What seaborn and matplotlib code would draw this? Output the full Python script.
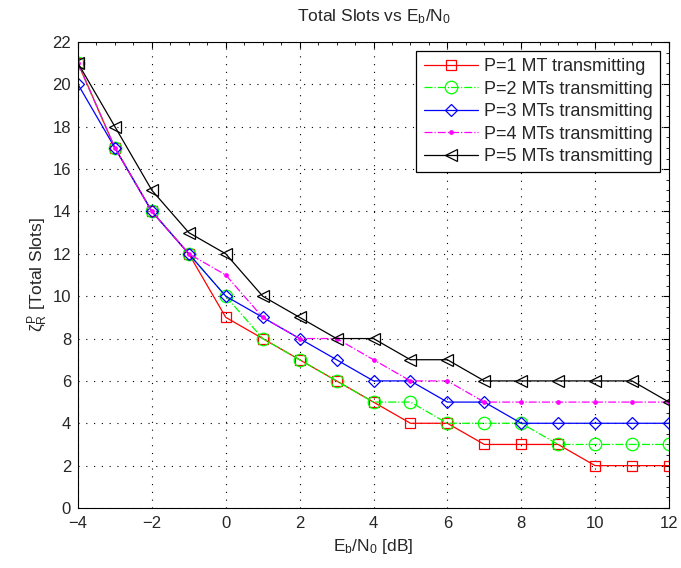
import matplotlib
matplotlib.use("Agg")
import matplotlib.pyplot as plt
import seaborn as sns
import pandas as pd
import numpy as np
from matplotlib.ticker import MultipleLocator, AutoMinorLocator

ebn0 = [-4, -3, -2, -1, 0, 1, 2, 3, 4, 5, 6, 7, 8, 9, 10, 11, 12]
p1 = [21, 17, 14, 12, 9, 8, 7, 6, 5, 4, 4, 3, 3, 3, 2, 2, 2]
p2 = [21, 17, 14, 12, 10, 8, 7, 6, 5, 5, 4, 4, 4, 3, 3, 3, 3]
p3 = [20, 17, 14, 12, 10, 9, 8, 7, 6, 6, 5, 5, 4, 4, 4, 4, 4]
p4 = [21, 17, 14, 12, 11, 9, 8, 8, 7, 6, 6, 5, 5, 5, 5, 5, 5]
p5 = [21, 18, 15, 13, 12, 10, 9, 8, 8, 7, 7, 6, 6, 6, 6, 6, 5]
labels = ["P=1 MT transmitting", "P=2 MTs transmitting", "P=3 MTs transmitting",
          "P=4 MTs transmitting", "P=5 MTs transmitting"]

sns.set_style("white")
plt.rcParams['font.family'] = ['Liberation Sans', 'DejaVu Sans']
plt.rcParams['mathtext.fontset'] = 'custom'
plt.rcParams['mathtext.rm'] = 'Liberation Sans'
plt.rcParams['mathtext.it'] = 'Liberation Sans'

fig = plt.figure(figsize=(6.81, 5.68), dpi=100)
ax = fig.add_axes([78/681, 1-508/568, (669-78)/681, (508-42)/568])

series = [p1, p2, p3, p4, p5]
colors = ["#ff0000", "#00ff00", "#0000ff", "#ff00ff", "#000000"]
styles = ["-", "-.", "-", "-.", "-"]
markers = ["s", "o", "D", ".", "<"]
msizes = [7, 9, 6.5, 5, 9]

for vals, lab, c, ls, m, ms in zip(series, labels, colors, styles, markers, msizes):
    df = pd.DataFrame({"x": ebn0, "y": vals})
    mfc = c if m == "." else "none"
    sns.lineplot(data=df, x="x", y="y", ax=ax, color=c, linestyle=ls, marker=m,
                 markersize=ms, markerfacecolor=mfc, markeredgecolor=c,
                 markeredgewidth=0.9, linewidth=0.9, label=lab)

ax.set_xlim(-4, 12)
ax.set_ylim(0, 22)
ax.xaxis.set_major_locator(MultipleLocator(2))
ax.yaxis.set_major_locator(MultipleLocator(2))
ax.xaxis.set_minor_locator(AutoMinorLocator(4))
ax.yaxis.set_minor_locator(AutoMinorLocator(4))
ax.tick_params(which='both', direction='in', top=True, right=True, labelsize=12, color='black')
ax.tick_params(which='major', length=4)
ax.tick_params(which='minor', length=2)
ax.tick_params(axis='x', which='major', pad=6)
ax.tick_params(axis='y', which='major', pad=5)
ax.grid(True, which='major', linestyle=(0, (1, 6)), color='black', linewidth=0.8)
for s in ax.spines.values():
    s.set_visible(True)
    s.set_color('black')
    s.set_linewidth(0.8)

ax.set_title(r"Total Slots vs E$_\mathrm{b}$/N$_\mathrm{0}$", fontsize=12.5, pad=15)
ax.set_xlabel(r"E$_\mathrm{b}$/N$_\mathrm{0}$ [dB]", fontsize=12.5, labelpad=4)
ax.set_ylabel(r"$\zeta_\mathrm{R}^\mathrm{P}$ [Total Slots]", fontsize=12.5, labelpad=2)

leg = ax.legend(loc='upper right', fontsize=13, frameon=True, fancybox=False,
                framealpha=1, edgecolor='black', handlelength=3.0,
                borderaxespad=0.5, labelspacing=0.3, borderpad=0.4,
                handletextpad=0.35)
leg.get_frame().set_linewidth(0.9)

fig.savefig("out.png", dpi=100)
